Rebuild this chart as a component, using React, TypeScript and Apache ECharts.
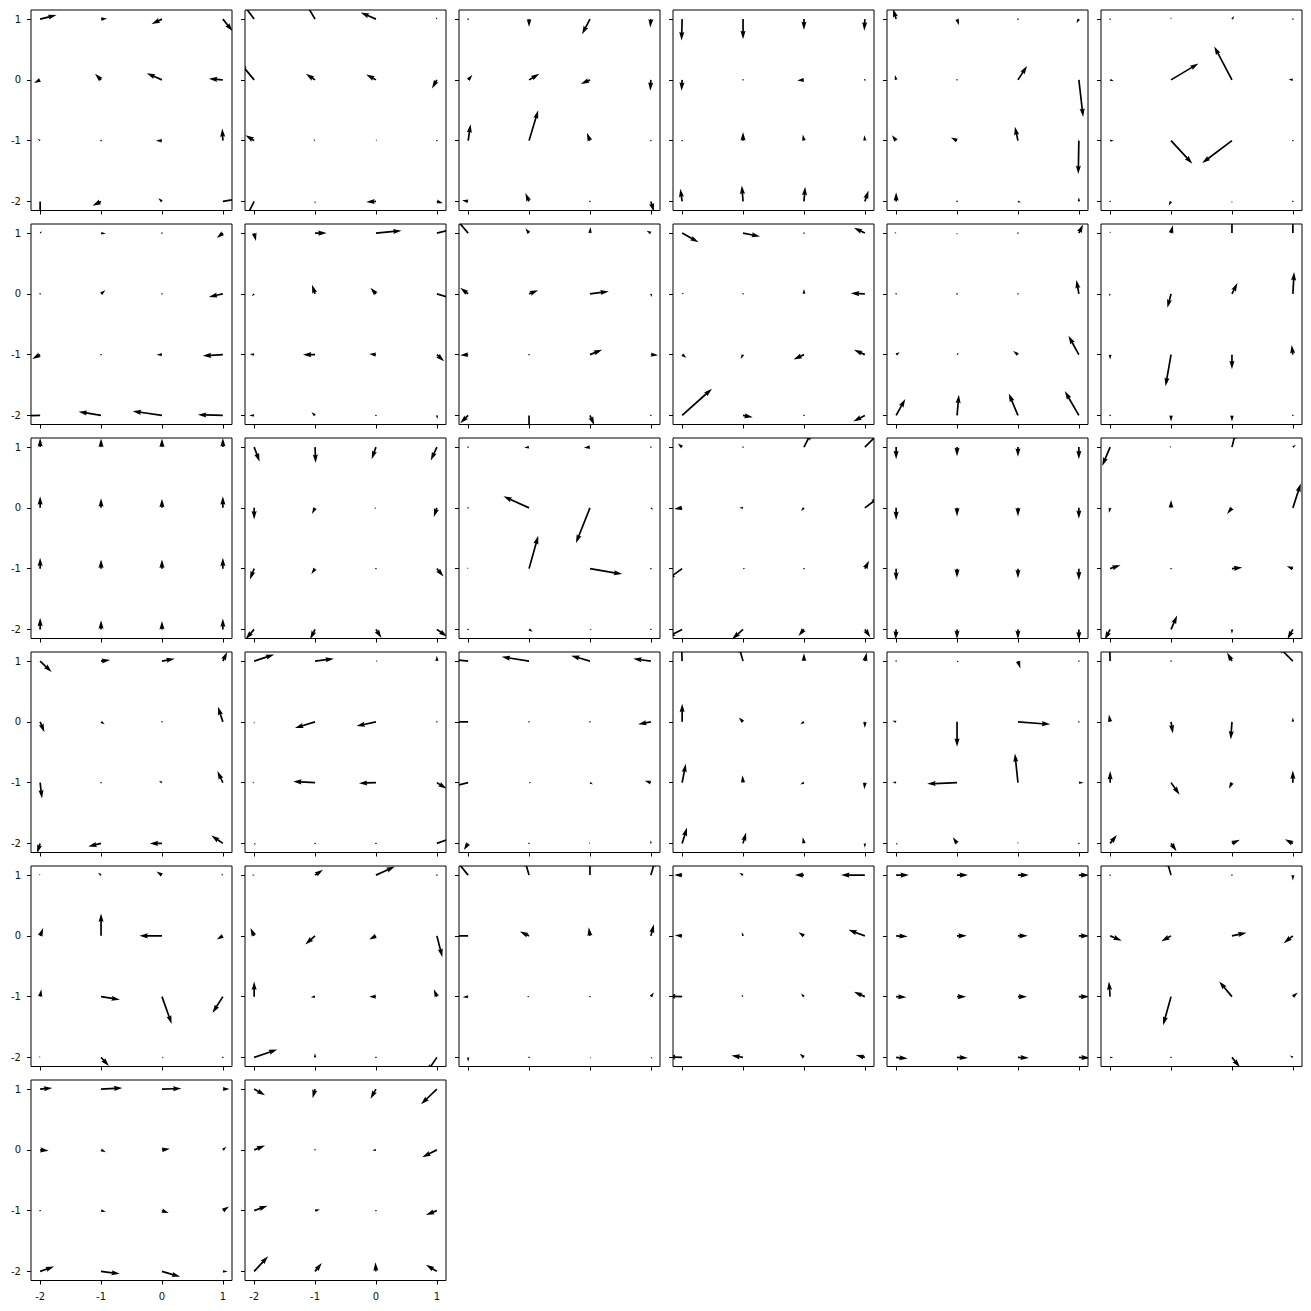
import React, { useEffect, useRef } from "react";
import * as echarts from "echarts";

const GRID_X = [-2, -1, 0, 1];
const GRID_Y = [1, 0, -1, -2];
const TICKS = [-2, -1, 0, 1];
const AXIS_MIN = -2.15;
const AXIS_MAX = 1.15;

// Per panel: 16 arrow components, ordered y=1 (x=-2..1), y=0, y=-1, y=-2
const U: number[][] = [
  [0.27, 0.1, -0.17, 0.16, -0.1, -0.1, -0.25, -0.23, -0.04, 0, -0.1, -0.01, 0, -0.14, -0.06, 0.3],
  [-0.26, -0.2, -0.25, -0.02, -0.24, -0.15, -0.16, -0.08, -0.14, -0.03, 0.02, 0, -0.16, 0, -0.16, 0.1],
  [0, 0, -0.13, -0.01, 0.07, 0.17, -0.15, -0.01, 0.04, 0.15, -0.05, 0, -0.1, -0.06, -0.01, 0.05],
  [-0.01, 0, 0, -0.01, -0.01, 0, -0.11, 0.01, 0, 0, -0.02, -0.01, -0.03, -0.02, 0.02, 0.06],
  [-0.05, 0.03, 0, -0.04, -0.02, 0, 0.15, 0.07, -0.07, -0.1, -0.05, -0.01, 0, 0, 0.05, 0],
  [0, 0, 0.04, 0, 0.06, 0.45, -0.29, -0.07, 0.06, 0.35, -0.49, 0, 0, -0.04, 0, 0],
  [0.03, 0.08, 0, -0.1, 0, 0.07, 0, -0.23, -0.13, 0, -0.09, -0.33, -0.3, -0.37, -0.48, -0.41],
  [0.03, 0.19, 0.42, 0.3, -0.04, -0.05, -0.09, 0.3, -0.07, -0.2, -0.11, 0.12, -0.08, -0.06, 0, 0.01],
  [-0.22, -0.06, 0.01, -0.07, -0.13, 0.15, 0.31, 0.02, -0.13, 0, 0.2, 0.12, -0.13, 0, 0.07, 0],
  [0.27, 0.28, 0, -0.18, 0.03, 0, 0, -0.23, 0.07, -0.04, -0.17, -0.18, 0.49, 0.16, 0, -0.19],
  [-0.03, 0, 0.02, 0.07, 0, 0, 0, -0.04, 0.06, 0.03, -0.08, -0.17, 0.15, 0.03, -0.15, -0.23],
  [0, 0.03, 0, 0, -0.02, -0.06, 0.09, 0.02, 0, -0.09, 0, -0.02, 0, 0, 0, 0],
  [0, 0, 0, 0, 0, 0, 0, 0, 0, 0, 0, 0, 0, 0, 0, 0],
  [0.09, 0.01, -0.07, -0.1, 0, -0.05, -0.03, -0.05, -0.07, -0.06, 0, 0.11, -0.14, -0.08, 0.09, 0.17],
  [0, -0.08, -0.1, 0, 0, -0.42, -0.23, 0.04, -0.02, 0.15, 0.53, 0, 0, 0.06, 0.03, 0],
  [-0.07, 0, 0.13, 0.25, -0.13, -0.06, -0.05, 0.24, -0.25, 0.04, 0, 0.07, -0.25, -0.18, -0.09, 0.09],
  [0, 0, 0, 0, 0, 0, 0, 0, 0, 0, 0, 0, -0.01, 0, 0, 0],
  [-0.13, -0.03, 0.07, 0.05, -0.02, 0, -0.08, 0.13, 0.17, 0, 0.17, -0.1, -0.09, 0.1, 0, -0.09],
  [0.19, 0.15, 0.21, 0.07, 0.07, 0.06, 0, -0.08, 0.03, 0, -0.05, -0.09, -0.05, -0.21, -0.2, -0.19],
  [0.33, 0.31, 0.03, 0, 0, -0.33, -0.32, 0, -0.03, -0.36, -0.28, 0.16, 0.03, 0, 0, 0.3],
  [-0.3, -0.45, -0.31, -0.29, -0.3, 0, 0, -0.21, -0.3, 0.04, 0.05, -0.1, -0.07, 0, -0.02, 0],
  [-0.01, -0.08, 0, 0.03, 0, -0.07, -0.06, 0, 0.06, -0.01, -0.06, -0.01, 0.08, 0.05, -0.02, 0],
  [0, 0.03, 0.04, 0, -0.06, 0, 0.53, 0, -0.06, -0.49, -0.05, 0.08, 0.03, -0.07, 0, 0],
  [-0.01, 0, -0.08, -0.25, -0.02, 0.03, -0.02, 0, 0, 0.14, -0.05, 0, 0.11, 0.09, 0.13, -0.13],
  [-0.02, -0.05, -0.09, -0.03, 0.05, 0, -0.37, -0.1, 0.02, 0.31, 0.16, -0.17, -0.02, 0.13, 0.03, 0],
  [-0.04, 0.13, 0.31, 0, -0.06, -0.16, -0.11, 0.09, 0, -0.07, -0.11, -0.05, 0.38, 0, 0, -0.17],
  [-0.22, -0.08, 0, 0.08, -0.3, -0.15, -0.02, 0.05, -0.09, -0.04, 0, 0.05, 0, 0, 0.02, 0.03],
  [-0.13, -0.06, -0.15, -0.39, -0.12, -0.02, -0.09, -0.27, -0.25, -0.03, -0.05, -0.18, -0.25, -0.19, -0.07, -0.15],
  [0.21, 0.18, 0.18, 0.17, 0.19, 0.16, 0.16, 0.17, 0.17, 0.15, 0.15, 0.17, 0.19, 0.18, 0.18, 0.18],
  [0, -0.08, 0, 0, 0.19, -0.16, 0.24, -0.15, -0.02, -0.13, -0.21, 0.08, 0.05, 0, 0.13, -0.05],
  [0.2, 0.35, 0.32, 0.11, 0.14, 0.08, 0.13, 0.06, 0, 0.08, 0.11, 0.1, 0.23, 0.31, 0.3, 0.08],
  [0.18, -0.04, -0.09, -0.26, 0.18, 0, -0.06, -0.24, 0.22, 0.08, 0, -0.18, 0.23, 0.11, -0.01, -0.18],
];

const V: number[][] = [
  [0.066, 0.01, -0.08, -0.2, -0.05, 0.1, 0.11, 0.02, 0.03, 0.02, 0, 0.2, -0.3, -0.07, 0.05, 0.05],
  [0.35, 0.34, 0.11, 0.03, 0.29, 0.1, 0.09, -0.14, 0.09, 0.02, 0.02, 0, -0.32, -0.04, -0.01, -0.03],
  [0.01, -0.13, -0.25, -0.14, 0.08, 0.1, -0.07, -0.18, 0.27, 0.5, 0.13, 0, 0.02, 0.14, -0.02, -0.17],
  [-0.35, -0.33, -0.18, -0.19, -0.18, 0, -0.01, -0.02, 0, 0.14, 0.1, 0.09, 0.21, 0.26, 0.24, 0.18],
  [0.17, -0.1, 0.02, -0.07, 0.08, 0, 0.23, -0.61, 0.09, 0.05, 0.23, -0.55, 0.15, 0.02, -0.02, 0.07],
  [0, 0.03, 0.05, 0, -0.02, 0.27, 0.55, 0.01, 0, -0.38, -0.37, 0, 0, -0.07, -0.03, 0],
  [0.03, -0.01, 0, -0.08, 0, 0.06, 0, -0.05, -0.07, 0, 0, -0.02, -0.01, 0.06, 0.07, 0.01],
  [-0.13, 0, 0.04, 0.07, -0.04, 0.15, 0.1, -0.09, 0.01, 0, 0.01, -0.11, 0, 0.05, 0, -0.06],
  [0.26, 0.08, 0.1, 0.04, 0.1, 0.06, 0.04, -0.05, -0.01, 0, 0.08, -0.01, -0.13, -0.3, -0.16, 0],
  [-0.15, -0.055, 0, 0.09, 0.02, 0, 0.08, 0.01, -0.05, -0.07, -0.08, 0.08, 0.44, -0.03, 0, -0.1],
  [0.01, -0.03, 0, 0.14, 0, -0.02, 0, 0.23, 0.04, 0.03, 0.06, 0.31, 0.27, 0.34, 0.36, 0.4],
  [0.03, 0.13, 0.3, 0.3, -0.04, -0.23, 0.18, 0.36, -0.08, -0.52, -0.24, 0.16, 0.02, -0.1, -0.1, 0],
  [0.15, 0.14, 0.14, 0.15, 0.19, 0.16, 0.15, 0.19, 0.18, 0.15, 0.15, 0.18, 0.19, 0.15, 0.14, 0.18],
  [-0.24, -0.26, -0.2, -0.22, -0.19, -0.1, -0.01, -0.15, -0.18, -0.09, 0, -0.13, -0.16, -0.16, -0.14, -0.12],
  [0, -0.01, -0.01, 0, 0, 0.19, -0.58, -0.03, 0.02, 0.54, -0.09, 0, 0, -0.04, 0, 0],
  [0.06, 0, 0.25, 0.25, -0.02, 0, -0.05, 0.18, -0.18, 0, 0, 0.13, -0.13, -0.16, -0.11, -0.13],
  [-0.2, -0.15, -0.16, -0.2, -0.2, -0.14, -0.14, -0.18, -0.2, -0.15, -0.16, -0.19, -0.17, -0.16, -0.16, -0.18],
  [-0.31, 0.01, 0.28, 0.04, -0.08, 0.13, -0.1, 0.4, 0.06, 0, 0.02, 0.04, -0.17, 0.23, -0.07, -0.16],
  [-0.18, 0.02, 0.04, 0.15, -0.17, -0.04, 0, 0.25, -0.26, 0, 0.03, 0.19, -0.16, -0.05, 0, 0.13],
  [0.11, 0.04, 0, 0.09, -0.03, -0.1, -0.07, 0, 0, 0.02, -0.01, -0.1, -0.02, 0, 0, 0.11],
  [0.03, 0.07, 0.09, 0.04, 0, 0, 0, -0.04, -0.07, 0, -0.03, 0.03, -0.11, 0, 0.02, 0.05],
  [0.3, 0.28, 0.13, 0.14, 0.3, 0.07, -0.04, -0.1, 0.31, 0.12, -0.03, -0.11, 0.26, 0.18, 0.1, -0.07],
  [0, -0.02, -0.12, 0, 0.02, -0.41, -0.04, 0, 0.01, -0.02, 0.48, 0, -0.02, 0.1, 0.03, 0],
  [0.3, 0, 0.14, 0.25, 0.12, -0.19, -0.29, 0.07, 0.19, -0.2, -0.1, 0.2, 0.14, -0.13, 0.06, 0.07],
  [0.02, 0.04, 0.06, 0.02, 0.13, 0.37, 0, -0.06, 0.12, -0.05, -0.45, -0.27, 0.02, -0.14, 0, 0],
  [0, 0.09, 0.14, 0, 0.13, -0.14, -0.06, -0.35, 0.25, -0.01, 0, 0.12, 0.13, 0.07, 0, -0.25],
  [0.27, 0.28, 0.28, 0.28, 0, 0.07, 0.14, 0.19, -0.01, 0, 0, 0.07, -0.07, 0, -0.02, -0.02],
  [0, 0.04, 0, 0, 0.01, 0.06, 0.06, 0.1, 0.01, 0.03, 0.05, 0.08, 0.01, 0.03, 0.06, 0.04],
  [0, 0, 0, 0, -0.01, 0, 0, 0, -0.01, 0, 0, 0, -0.02, -0.01, -0.01, -0.01],
  [0, 0.28, 0, -0.09, -0.08, -0.09, 0.05, -0.12, 0.25, -0.47, 0.25, 0.07, 0, 0, -0.16, 0.03],
  [0.02, 0.02, 0.01, 0, -0.015, -0.04, 0.02, 0.05, 0, -0.02, -0.04, 0.07, 0.08, -0.04, -0.09, 0],
  [-0.1, -0.15, -0.16, -0.25, 0.07, 0, -0.01, -0.12, 0.08, 0.02, 0, -0.07, 0.25, 0.14, 0.15, 0.11],
];

const N_COLS = 6;
const PANEL_LEFT = 31;
const PANEL_TOP = 10;
const PANEL_STEP = 214;
const PANEL_W = 201;
const PANEL_H = 200.5;
const SHAFT = 1.7; // shaft width in px

function renderArrow(_params: any, api: any) {
  const x = api.value(0);
  const y = api.value(1);
  const u = api.value(2);
  const v = api.value(3);
  const p0 = api.coord([x, y]);
  const p1 = api.coord([x + u, y + v]);
  const dx = p1[0] - p0[0];
  const dy = p1[1] - p0[1];
  const lpx = Math.hypot(dx, dy);
  const L = lpx / SHAFT;
  const c = lpx > 0 ? dx / lpx : 1;
  const s = lpx > 0 ? dy / lpx : 0;
  let pts: number[][];
  if (L < 1) {
    pts = [];
    for (let k = 0; k < 6; k++) {
      const th = (k * Math.PI) / 3;
      pts.push([Math.cos(th) * 0.5, Math.sin(th) * 0.5]);
    }
  } else if (L < 5) {
    const k = L / 5;
    pts = [
      [0, 0.5], [0.5, 0.5], [0, 1.5], [5, 0], [0, -1.5], [0.5, -0.5], [0, -0.5],
    ].map(([a, b]) => [a * k, b * k]);
  } else {
    pts = [
      [0, 0.5], [L - 4.5, 0.5], [L - 5, 1.5], [L, 0], [L - 5, -1.5], [L - 4.5, -0.5], [0, -0.5],
    ];
  }
  const points = pts.map(([a, b]) => [
    p0[0] + (a * c - b * s) * SHAFT,
    p0[1] + (a * s + b * c) * SHAFT,
  ]);
  return {
    type: "polygon",
    shape: { points },
    style: { fill: "#000", stroke: null },
  };
}

function buildOption() {
  const nPanels = U.length;
  const grids: any[] = [];
  const xAxes: any[] = [];
  const yAxes: any[] = [];
  const series: any[] = [];
  const lastRow = Math.floor((nPanels - 1) / N_COLS);
  const fmt = (val: number) => String(val);
  for (let i = 0; i < nPanels; i++) {
    const row = Math.floor(i / N_COLS);
    const col = i % N_COLS;
    grids.push({
      left: PANEL_LEFT + PANEL_STEP * col,
      top: PANEL_TOP + PANEL_STEP * row,
      width: PANEL_W,
      height: PANEL_H,
      show: true,
      borderColor: "#000",
      borderWidth: 1,
      backgroundColor: "transparent",
    });
    const axisCommon = {
      type: "value",
      gridIndex: i,
      min: AXIS_MIN,
      max: AXIS_MAX,
      splitLine: { show: false },
      axisLine: { show: false, onZero: false },
      axisTick: {
        show: true,
        inside: false,
        length: 4,
        customValues: TICKS,
        lineStyle: { color: "#000", width: 1 },
      },
    };
    xAxes.push({
      ...axisCommon,
      position: "bottom",
      axisLabel: {
        show: row === lastRow,
        customValues: TICKS,
        margin: 11,
        fontSize: 10,
        color: "#111",
        fontFamily: "DejaVu Sans",
        formatter: fmt,
      },
    });
    yAxes.push({
      ...axisCommon,
      position: "left",
      axisLabel: {
        show: col === 0,
        customValues: TICKS,
        margin: 10,
        fontSize: 10,
        color: "#111",
        fontFamily: "DejaVu Sans",
        formatter: fmt,
      },
    });
    const data: number[][] = [];
    for (let r = 0; r < GRID_Y.length; r++) {
      for (let c = 0; c < GRID_X.length; c++) {
        const k = r * GRID_X.length + c;
        data.push([GRID_X[c], GRID_Y[r], U[i][k], V[i][k]]);
      }
    }
    series.push({
      type: "custom",
      xAxisIndex: i,
      yAxisIndex: i,
      renderItem: renderArrow,
      dimensions: ["x", "y", "u", "v"],
      encode: { x: 0, y: 1 },
      data,
      clip: true,
      silent: true,
    });
  }
  return {
    animation: false,
    backgroundColor: "#fff",
    grid: grids,
    xAxis: xAxes,
    yAxis: yAxes,
    series,
  };
}

export default function App() {
  const ref = useRef<HTMLDivElement>(null);
  useEffect(() => {
    if (!ref.current) return;
    const chart = echarts.init(ref.current, undefined, { renderer: "svg" });
    chart.setOption(buildOption() as any);
    return () => chart.dispose();
  }, []);
  return (
    <div
      ref={ref}
      style={{ position: "absolute", left: 0, top: 0, width: 1311, height: 1311 }}
    />
  );
}
